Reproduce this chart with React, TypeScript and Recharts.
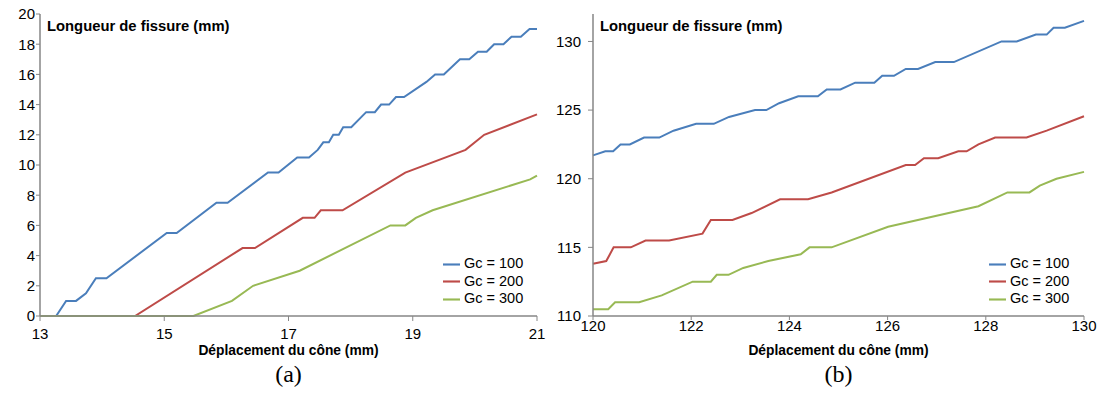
import React from 'react';
import { LineChart, Line, XAxis, YAxis, Legend } from 'recharts';

const FONT = '"Liberation Sans", Arial, sans-serif';
const BLUE = '#4A7EBB';
const RED = '#BE4B48';
const GREEN = '#98B954';

const seriesNames = ['Gc = 100', 'Gc = 200', 'Gc = 300'];

// --- panel (a) ---
const aTicksX = [13, 15, 17, 19, 21];
const aTicksY = [0, 2, 4, 6, 8, 10, 12, 14, 16, 18, 20];

const a100X = [13, 13.26, 13.42, 13.58, 13.74, 13.9, 14.07, 15.04, 15.2, 15.84, 16.02, 16.67, 16.84, 17.14, 17.33, 17.47, 17.56, 17.65, 17.72, 17.81, 17.88, 18.01, 18.25, 18.39, 18.49, 18.62, 18.73, 18.86, 19.22, 19.36, 19.5, 19.76, 19.91, 20.05, 20.19, 20.31, 20.46, 20.59, 20.74, 20.88, 21];
const a100Y = [0, 0, 1, 1, 1.5, 2.5, 2.5, 5.5, 5.5, 7.5, 7.5, 9.5, 9.5, 10.5, 10.5, 11, 11.5, 11.5, 12, 12, 12.5, 12.5, 13.5, 13.5, 14, 14, 14.5, 14.5, 15.5, 16, 16, 17, 17, 17.5, 17.5, 18, 18, 18.5, 18.5, 19, 19];

const a200X = [13, 14.53, 16.26, 16.46, 17.23, 17.42, 17.52, 17.87, 18.88, 19.85, 20.15, 21];
const a200Y = [0, 0, 4.5, 4.5, 6.5, 6.5, 7, 7, 9.5, 11, 12, 13.35];

const a300X = [13, 15.47, 16.09, 16.43, 17.18, 18.64, 18.88, 19.05, 19.32, 20.89, 21];
const a300Y = [0, 0, 1, 2, 3, 6, 6, 6.5, 7, 9.05, 9.3];

// --- panel (b) ---
const bTicksX = [120, 122, 124, 126, 128, 130];
const bTicksY = [110, 115, 120, 125, 130];

const b100X = [120, 120.25, 120.41, 120.56, 120.75, 121.04, 121.35, 121.64, 122.1, 122.46, 122.77, 123.3, 123.53, 123.79, 124.18, 124.58, 124.76, 125.04, 125.34, 125.73, 125.89, 126.13, 126.37, 126.62, 126.97, 127.35, 128.32, 128.63, 129.02, 129.24, 129.38, 129.61, 130];
const b100Y = [121.7, 122, 122, 122.5, 122.5, 123, 123, 123.5, 124, 124, 124.5, 125, 125, 125.5, 126, 126, 126.5, 126.5, 127, 127, 127.5, 127.5, 128, 128, 128.5, 128.5, 130, 130, 130.5, 130.5, 131, 131, 131.5];

const b200X = [120, 120.27, 120.42, 120.77, 121.07, 121.55, 122.23, 122.4, 122.84, 123.23, 123.81, 124.38, 124.86, 126.37, 126.56, 126.74, 127.03, 127.44, 127.61, 127.85, 128.19, 128.83, 129.24, 130];
const b200Y = [113.8, 114, 115, 115, 115.5, 115.5, 116, 117, 117, 117.5, 118.5, 118.5, 119, 121, 121, 121.5, 121.5, 122, 122, 122.5, 123, 123, 123.5, 124.55];

const b300X = [120, 120.31, 120.45, 120.94, 121.4, 122.03, 122.4, 122.52, 122.76, 123.06, 123.57, 124.23, 124.41, 124.86, 126.01, 127.85, 128.44, 128.89, 129.1, 129.44, 130];
const b300Y = [110.5, 110.5, 111, 111, 111.5, 112.5, 112.5, 113, 113, 113.5, 114, 114.5, 115, 115, 116.5, 118, 119, 119, 119.5, 120, 120.5];

const zip = (xs: number[], ys: number[]) => xs.map((x, i) => ({ x, y: ys[i] }));

interface PanelProps {
  left: number;
  width: number;
  yAxisWidth: number;
  xDomain: [number, number];
  yDomain: [number, number];
  xTicks: number[];
  yTicks: number[];
  series: { x: number; y: number }[][];
  yTick: { size: number; margin: number };
  xTick: { size: number; margin: number };
  legendLeft: number;
  caption: string;
}

const tickStyle = { fill: '#000', fontSize: 15, fontFamily: FONT };
const axisGray = { stroke: '#868686', strokeWidth: 1.5 };

const Panel: React.FC<PanelProps> = (p) => {
  const colors = [BLUE, RED, GREEN];
  const plotLeft = p.yAxisWidth;
  const plotRight = p.width - 15;
  const plotCenter = p.left + (plotLeft + plotRight) / 2;
  return (
    <>
      <div style={{ position: 'absolute', left: p.left, top: 0 }}>
        <LineChart
          width={p.width}
          height={360}
          margin={{ top: 14, right: p.width - plotRight, bottom: 14, left: 0 }}
        >
          <XAxis
            dataKey="x"
            type="number"
            domain={p.xDomain}
            ticks={p.xTicks}
            interval={0}
            height={30}
            axisLine={axisGray}
            tickLine={{ stroke: '#868686' }}
            tickSize={p.xTick.size}
            tickMargin={p.xTick.margin}
            tick={tickStyle}
          />
          <XAxis
            xAxisId="top"
            orientation="top"
            dataKey="x"
            type="number"
            domain={p.xDomain}
            height={0}
            tick={false}
            tickLine={false}
            axisLine={{ stroke: '#1a1a1a', strokeWidth: 1.3 }}
          />
          <YAxis
            type="number"
            domain={p.yDomain}
            ticks={p.yTicks}
            interval={0}
            width={p.yAxisWidth}
            axisLine={axisGray}
            tickLine={{ stroke: '#868686' }}
            tickSize={p.yTick.size}
            tickMargin={p.yTick.margin}
            tick={tickStyle}
          />
          <YAxis
            yAxisId="right"
            orientation="right"
            type="number"
            domain={p.yDomain}
            width={0}
            tick={false}
            tickLine={false}
            axisLine={{ stroke: '#1a1a1a', strokeWidth: 1.3 }}
          />
          {p.series.map((d, i) => (
            <Line
              key={seriesNames[i]}
              data={d}
              dataKey="y"
              name={seriesNames[i]}
              type="linear"
              stroke={colors[i]}
              strokeWidth={2}
              dot={false}
              activeDot={false}
              isAnimationActive={false}
            />
          ))}
          <Legend
            layout="vertical"
            align="center"
            verticalAlign="middle"
            iconType="plainline"
            iconSize={17}
            wrapperStyle={{
              left: p.legendLeft,
              top: 255,
              width: 100,
              fontSize: 14.5,
              fontFamily: FONT,
              lineHeight: '16.7px',
            }}
            formatter={(v: string) => <span style={{ color: '#000' }}>{v}</span>}
          />
        </LineChart>
      </div>
      <div
        style={{
          position: 'absolute',
          left: p.left + plotLeft + 7,
          top: 18,
          fontFamily: FONT,
          fontWeight: 'bold',
          fontSize: 14.8,
          color: '#000',
          whiteSpace: 'nowrap',
        }}
      >
        Longueur de fissure (mm)
      </div>
      <div
        style={{
          position: 'absolute',
          left: plotCenter - 150,
          width: 300,
          top: 343,
          textAlign: 'center',
          fontFamily: FONT,
          fontWeight: 'bold',
          fontSize: 13.8,
          color: '#000',
        }}
      >
        Déplacement du cône (mm)
      </div>
      <div
        style={{
          position: 'absolute',
          left: plotCenter - 50,
          width: 100,
          top: 361,
          textAlign: 'center',
          fontFamily: '"Liberation Serif", "Times New Roman", serif',
          fontSize: 24,
          color: '#000',
        }}
      >
        {p.caption}
      </div>
    </>
  );
};

const App: React.FC = () => {
  return (
    <div style={{ position: 'absolute', left: 0, top: 0, width: 1099, height: 414, background: '#fff' }}>
      <Panel
        left={0}
        width={552}
        yAxisWidth={40}
        xDomain={[13, 21]}
        yDomain={[0, 20]}
        xTicks={aTicksX}
        yTicks={aTicksY}
        series={[zip(a100X, a100Y), zip(a200X, a200Y), zip(a300X, a300Y)]}
        yTick={{ size: 4, margin: 1 }}
        xTick={{ size: 5, margin: 7 }}
        legendLeft={443}
        caption="(a)"
      />
      <Panel
        left={550}
        width={549}
        yAxisWidth={43}
        xDomain={[120, 130]}
        yDomain={[110, 132]}
        xTicks={bTicksX}
        yTicks={bTicksY}
        series={[zip(b100X, b100Y), zip(b200X, b200Y), zip(b300X, b300Y)]}
        yTick={{ size: 5, margin: 7 }}
        xTick={{ size: 4, margin: 0 }}
        legendLeft={439}
        caption="(b)"
      />
    </div>
  );
};

export default App;
